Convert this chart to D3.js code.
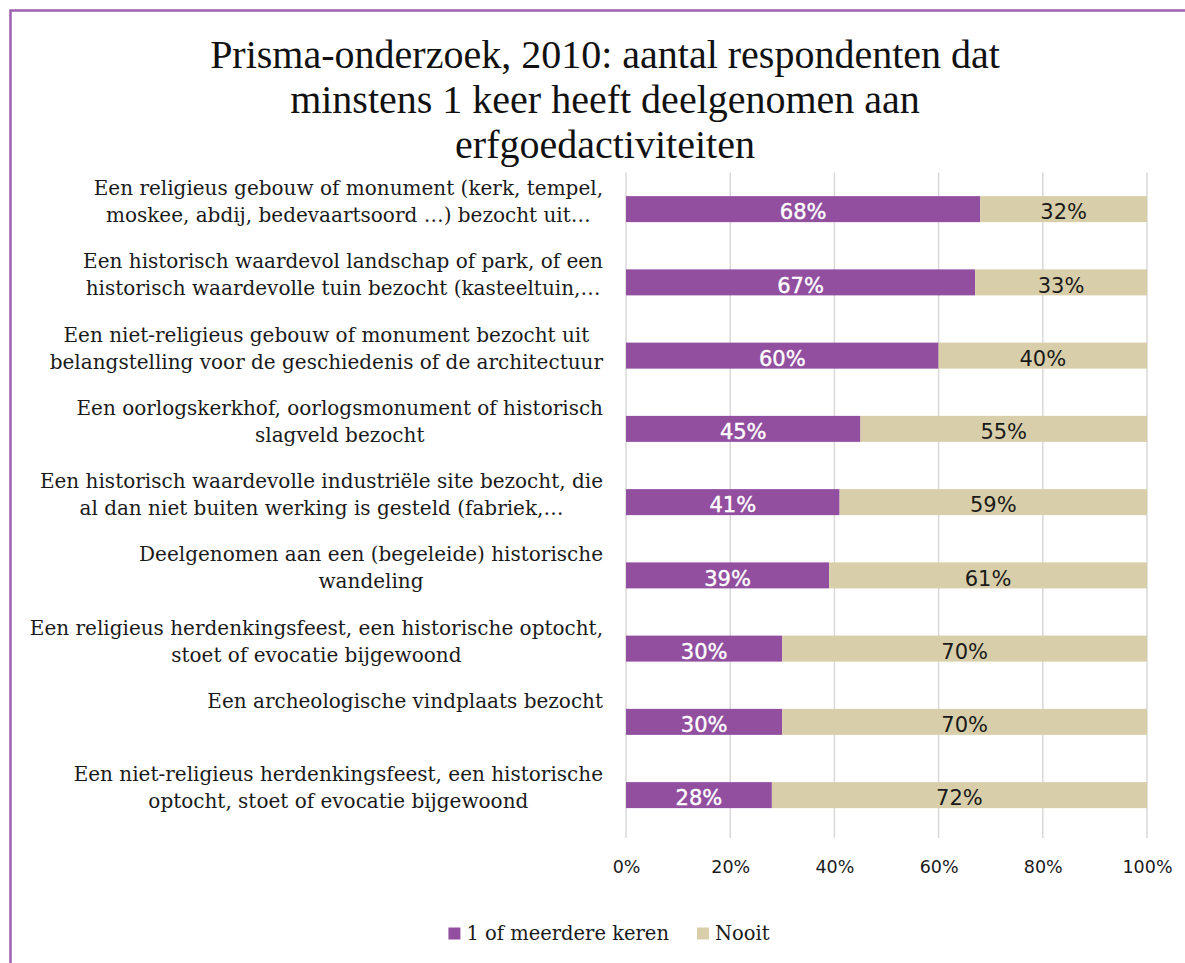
<!DOCTYPE html>
<html lang="nl">
<head>
<meta charset="UTF-8">
<title>Prisma-onderzoek 2010</title>
<script src="https://cdn.jsdelivr.net/npm/d3@7"></script>
<style>
    body { margin: 0; background: #ffffff; }
    svg { display: block; }
    .label { font-family: "DejaVu Serif", serif; font-size: 20px; fill: #1a1a1a; }
    .tick text { font-family: "DejaVu Sans", sans-serif; font-size: 17.5px; fill: #1a1a1a; }
    .value { font-family: "DejaVu Sans", sans-serif; font-size: 21px; }
    .title { font-family: "Liberation Serif", serif; font-size: 40px; fill: #111; }
    .legend text { font-family: "DejaVu Serif", serif; font-size: 19.5px; fill: #1a1a1a; }
</style>
</head>
<body>
<div id="chart"></div>
<script>
    var WIDTH = 1185;
    var HEIGHT = 963;

    var TITLE_LINES = [
        "Prisma-onderzoek, 2010: aantal respondenten dat",
        "minstens 1 keer heeft deelgenomen aan",
        "erfgoedactiviteiten"
    ];

    var CATEGORIES = [
        ["Een religieus gebouw of monument (kerk, tempel,", "moskee, abdij, bedevaartsoord …) bezocht uit…"],
        ["Een historisch waardevol landschap of park, of een", "historisch waardevolle tuin bezocht (kasteeltuin,…"],
        ["Een niet-religieus gebouw of monument bezocht uit", "belangstelling voor de geschiedenis of de architectuur"],
        ["Een oorlogskerkhof, oorlogsmonument of historisch", "slagveld bezocht"],
        ["Een historisch waardevolle industriële site bezocht, die", "al dan niet buiten werking is gesteld (fabriek,…"],
        ["Deelgenomen aan een (begeleide) historische", "wandeling"],
        ["Een religieus herdenkingsfeest, een historische optocht,", "stoet of evocatie bijgewoond"],
        ["Een archeologische vindplaats bezocht"],
        ["Een niet-religieus herdenkingsfeest, een historische", "optocht, stoet of evocatie bijgewoond"]
    ];
    var MEERDERE = [68, 67, 60, 45, 41, 39, 30, 30, 28];
    var NOOIT = [32, 33, 40, 55, 59, 61, 70, 70, 72];
    var SERIES = ["1 of meerdere keren", "Nooit"];
    var X_TICKS = [0, 20, 40, 60, 80, 100];

    var COLORS = ["#924fa0", "#d8cfaa"];
    var TEXT_COLORS = ["#ffffff", "#1a1a1a"];
    var GRID_COLOR = "#d9d9d9";
    var BORDER_COLOR = "#a060b2";

    var PLOT_LEFT = 626, PLOT_RIGHT = 1147, PLOT_TOP = 172.5, PLOT_BOTTOM = 831.75;
    var LABEL_RIGHT = 603;

    var svg = d3.select("#chart").append("svg")
        .attr("width", WIDTH)
        .attr("height", HEIGHT);

    // outer frame (only left and top edges are visible in the crop)
    svg.append("rect")
        .attr("x", 10.5).attr("y", 10.5)
        .attr("width", WIDTH + 20).attr("height", HEIGHT + 20)
        .attr("fill", "none")
        .attr("stroke", BORDER_COLOR)
        .attr("stroke-width", 2.5);

    svg.selectAll("text.title").data(TITLE_LINES).enter().append("text")
        .attr("class", "title")
        .attr("x", 605)
        .attr("y", function(d, i){ return 68 + i * 45; })
        .attr("text-anchor", "middle")
        .text(function(d){ return d; });

    var x = d3.scaleLinear().domain([0, 100]).range([PLOT_LEFT, PLOT_RIGHT]);
    var y = d3.scaleBand()
        .domain(d3.range(CATEGORIES.length))
        .range([PLOT_TOP, PLOT_BOTTOM])
        .paddingInner(0.645)
        .paddingOuter(0.3225);

    // gridlines
    svg.append("g").selectAll("line").data(X_TICKS).enter().append("line")
        .attr("x1", function(d){ return x(d); })
        .attr("x2", function(d){ return x(d); })
        .attr("y1", PLOT_TOP)
        .attr("y2", 838)
        .attr("stroke", GRID_COLOR)
        .attr("stroke-width", 1.5);

    // x axis labels
    var xAxis = d3.axisBottom(x)
        .tickValues(X_TICKS)
        .tickSize(0)
        .tickPadding(0)
        .tickFormat(function(d){ return d + "%"; });
    var axisG = svg.append("g")
        .attr("transform", "translate(0,861)")
        .call(xAxis);
    axisG.select(".domain").remove();
    axisG.selectAll("text").attr("dy", "0.71em");

    // stacked bars
    var stackData = CATEGORIES.map(function(c, i){
        return { idx: i, a: MEERDERE[i], b: NOOIT[i] };
    });
    var stacked = d3.stack().keys(["a", "b"])(stackData);

    var layers = svg.append("g").selectAll("g").data(stacked).enter().append("g")
        .attr("fill", function(d, i){ return COLORS[i]; });

    layers.selectAll("rect").data(function(d){ return d; }).enter().append("rect")
        .attr("x", function(d){ return x(d[0]); })
        .attr("y", function(d){ return y(d.data.idx); })
        .attr("width", function(d){ return x(d[1]) - x(d[0]); })
        .attr("height", y.bandwidth());

    layers.each(function(layer, li){
        d3.select(this).selectAll("text").data(layer).enter().append("text")
            .attr("class", "value")
            .attr("x", function(d){ return (x(d[0]) + x(d[1])) / 2; })
            .attr("y", function(d){ return y(d.data.idx) + y.bandwidth() / 2 + 3; })
            .attr("dy", "0.35em")
            .attr("text-anchor", "middle")
            .attr("fill", TEXT_COLORS[li])
            .attr("stroke", li === 0 ? TEXT_COLORS[li] : "none")
            .attr("stroke-width", 0.4)
            .text(function(d){ return (d[1] - d[0]) + "%"; });
    });

    // category labels: centered block, right edge at LABEL_RIGHT
    CATEGORIES.forEach(function(lines, i){
        var g = svg.append("g");
        var texts = g.selectAll("text").data(lines).enter().append("text")
            .attr("class", "label")
            .attr("y", function(d, j){ return y(i) + y.bandwidth() / 2 - 21 + j * 27; })
            .attr("dy", "0.35em")
            .attr("text-anchor", "middle")
            .text(function(d){ return d; });
        var maxW = 0;
        texts.each(function(){ maxW = Math.max(maxW, this.getComputedTextLength()); });
        texts.attr("x", LABEL_RIGHT - maxW / 2);
    });

    // legend
    var legend = svg.append("g").attr("class", "legend");
    var items = legend.selectAll("g").data(SERIES).enter().append("g");
    items.append("rect")
        .attr("width", 12).attr("height", 12)
        .attr("y", 927.5)
        .attr("fill", function(d, i){ return COLORS[i]; });
    items.append("text")
        .attr("x", 18)
        .attr("y", 933.5)
        .attr("dy", "0.35em")
        .text(function(d){ return d; });
    var cx = 0, widths = [];
    items.each(function(){
        var w = 18 + d3.select(this).select("text").node().getComputedTextLength();
        widths.push(w);
    });
    var total = d3.sum(widths) + 28 * (widths.length - 1);
    cx = 609 - total / 2;
    items.each(function(d, i){
        d3.select(this).attr("transform", "translate(" + cx + ",0)");
        cx += widths[i] + 28;
    });
</script>
</body>
</html>
